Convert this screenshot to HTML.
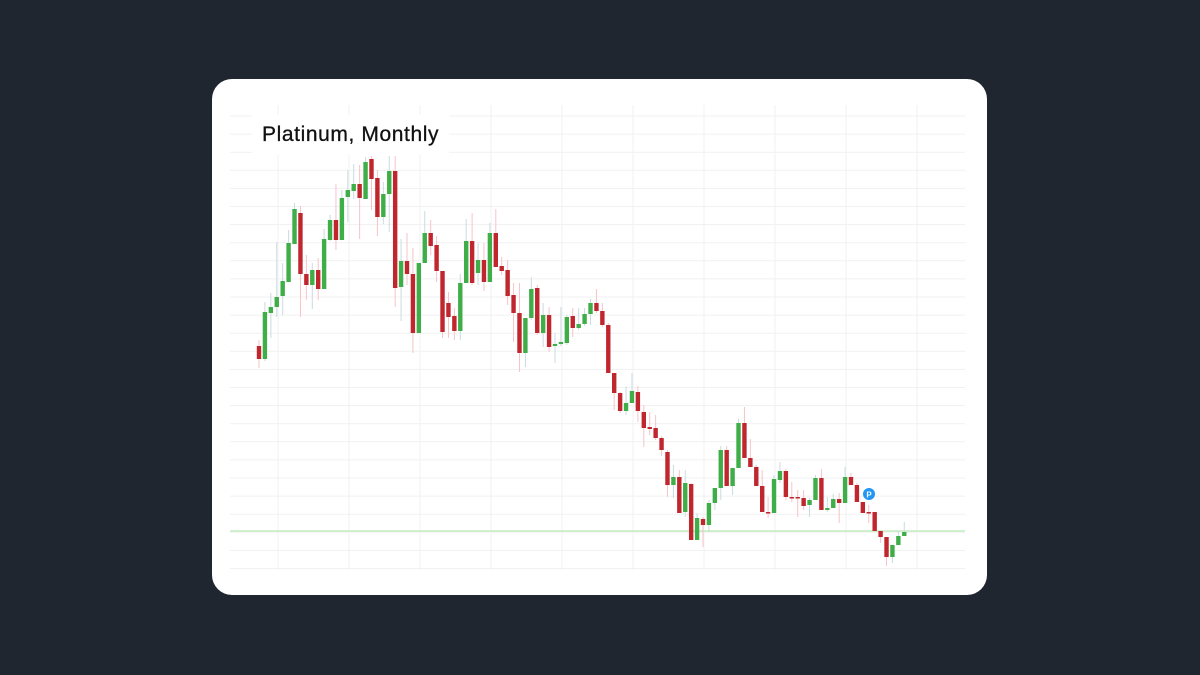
<!DOCTYPE html>
<html><head><meta charset="utf-8"><style>
html,body{margin:0;padding:0;background:#1f2630;width:1200px;height:675px;overflow:hidden}
#card{position:absolute;left:212px;top:79px;width:775px;height:516px;background:#fff;border-radius:20px}
#title{position:absolute;left:252px;top:115px;padding:0 10px;background:#fff;font-family:"Liberation Sans",sans-serif;font-size:21px;color:#111;line-height:40px;letter-spacing:0.6px;-webkit-text-stroke:0.3px #111}
svg{position:absolute;left:0;top:0}
</style></head><body>
<div id="card"></div>
<svg id="chart" width="1200" height="675"></svg>
<div id="title">Platinum, Monthly</div>
<script>
const opens=[1412,1373,1511,1529,1562,1604,1718,1811,1628,1595,1640,1583,1730,1790,1730,1859,1877,1898,1853,1973,1916,1799,1868,1937,1589,1667,1628,1451,1661,1751,1715,1637,1541,1502,1457,1601,1727,1631,1670,1604,1751,1652,1640,1565,1511,1391,1496,1586,1451,1505,1412,1418,1421,1502,1466,1478,1508,1541,1517,1475,1331,1271,1217,1241,1274,1214,1169,1166,1136,1094,995,1019,914,998,830,893,875,941,986,1100,992,1046,1181,1076,1049,992,914,911,1010,1037,959,959,956,935,950,1016,920,926,953,941,1019,995,944,914,914,857,839,779,815,842];
const highs=[1430,1544,1571,1724,1661,1760,1841,1832,1685,1661,1676,1763,1805,1898,1880,1940,1958,1955,1979,1982,1940,1904,1982,1982,1733,1751,1706,1661,1817,1790,1742,1637,1574,1526,1628,1793,1811,1721,1721,1781,1823,1679,1670,1601,1601,1496,1619,1595,1541,1529,1451,1529,1505,1526,1526,1526,1553,1583,1541,1481,1331,1274,1291,1331,1292,1235,1214,1205,1142,1100,1055,1040,1040,1001,911,899,950,986,1112,1112,1046,1193,1229,1133,1055,1040,959,1025,1064,1043,1004,980,980,956,1025,1043,959,968,971,1049,1031,1001,944,935,914,857,839,815,858,884];
const lows=[1346,1367,1436,1499,1505,1604,1718,1499,1550,1523,1550,1583,1727,1700,1730,1784,1853,1733,1853,1820,1742,1778,1754,1529,1487,1595,1391,1451,1661,1685,1604,1436,1436,1430,1430,1601,1595,1595,1577,1604,1649,1625,1535,1424,1334,1349,1490,1445,1409,1394,1361,1412,1415,1439,1460,1472,1475,1511,1469,1331,1220,1211,1205,1241,1184,1109,1145,1130,1082,959,956,911,899,830,830,809,854,920,950,992,965,1046,1076,1049,992,914,896,911,1001,950,944,899,920,899,950,920,914,926,881,941,995,944,911,881,857,821,752,761,815,842];
const closes=[1373,1514,1529,1559,1607,1721,1823,1628,1595,1640,1583,1733,1790,1730,1856,1880,1898,1856,1964,1913,1799,1868,1937,1586,1667,1628,1451,1661,1751,1712,1637,1454,1499,1457,1601,1727,1601,1670,1604,1751,1649,1637,1562,1511,1391,1496,1583,1451,1505,1409,1418,1424,1499,1466,1478,1508,1541,1517,1475,1331,1271,1217,1241,1277,1217,1166,1163,1136,1100,995,1019,911,1001,830,896,875,941,986,1100,992,1046,1181,1076,1049,992,914,911,1013,1037,959,958,958,932,950,1016,920,926,953,941,1019,995,944,911,913,857,839,779,815,842,854];
const refLevel=857;
const svg=document.getElementById('chart');
const NS='http://www.w3.org/2000/svg';
const x0=259,step=5.92;
function xAt(i){return x0+i*step;}
function yAt(p){return (2450-p)/3;}
function mk(t,a){const e=document.createElementNS(NS,t);for(const k in a)e.setAttribute(k,a[k]);svg.appendChild(e);return e;}
for(let k=0;k<26;k++){const y=116+k*18.1;const l=mk('line',{x1:230,x2:965,y1:y,y2:y,stroke:'#f1f1f1','stroke-width':1});

}
for(let k=0;k<10;k++){const x=278+k*71;const l=mk('line',{x1:x,x2:x,y1:105,y2:570,stroke:'#f1f1f1','stroke-width':1});

}
const rl=mk('line',{x1:230,x2:965,y1:yAt(refLevel),y2:yAt(refLevel),stroke:'#a6e3a1','stroke-width':1});


for(let i=0;i<opens.length;i++){
  const up=closes[i]>=opens[i];
  const x=xAt(i);
  const w=mk('line',{x1:x,x2:x,y1:yAt(highs[i]),y2:yAt(lows[i]),stroke:up?'#c9dbe0':'#f6c3c8','stroke-width':1});
  
  
  const top=yAt(Math.max(opens[i],closes[i])),bot=yAt(Math.min(opens[i],closes[i]));
  const b=mk('rect',{x:x-2.2,y:top,width:4.4,height:Math.max(1.5,bot-top),fill:up?'#3fae48':'#c0262d'});
  
  
}
const pm=mk('circle',{cx:869,cy:494,r:6,fill:'#2196f3'});


const pt=mk('text',{x:869,y:497.5,'font-size':8,'font-family':'Liberation Sans,sans-serif','font-weight':'bold',fill:'#fff','text-anchor':'middle'});
pt.textContent='P';


</script>
</body></html>
